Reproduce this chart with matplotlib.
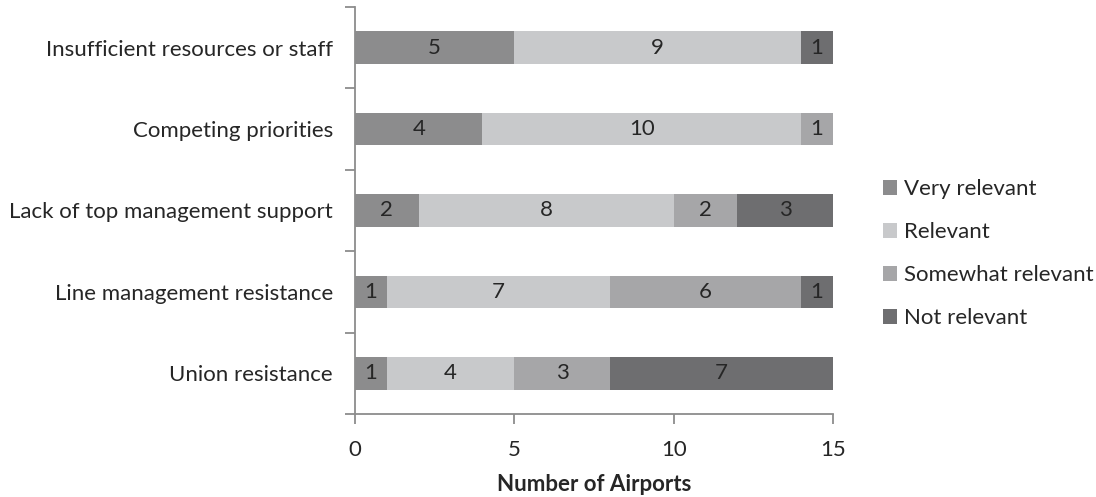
import matplotlib
matplotlib.use("Agg")
import matplotlib.pyplot as plt
import numpy as np

categories = ["Insufficient resources or staff", "Competing priorities",
              "Lack of top management support", "Line management resistance",
              "Union resistance"]
series_names = ["Very relevant", "Relevant", "Somewhat relevant", "Not relevant"]
very_relevant = [5, 4, 2, 1, 1]
relevant = [9, 10, 8, 7, 4]
somewhat_relevant = [0, 1, 2, 6, 3]
not_relevant = [1, 0, 3, 1, 7]
colors = ["#8c8c8d", "#c8c9cb", "#a6a6a8", "#6e6e70"]
xticks = [0, 5, 10, 15]

plt.rcParams['font.family'] = ['Lato', 'DejaVu Sans']
fig = plt.figure(figsize=(10.96, 4.97), dpi=100)
ax = fig.add_axes([355/1096, 1 - 414/497, (833-355)/1096, (414-7)/497])

fs = 16
text_color = "#262626"
series = [very_relevant, relevant, somewhat_relevant, not_relevant]
n = len(categories)
ypos = np.arange(n)[::-1]
left = np.zeros(n)
for name, vals, c in zip(series_names, series, colors):
    vals = np.array(vals, dtype=float)
    ax.barh(ypos, vals, left=left, height=0.4, color=c, label=name)
    for y, l, v in zip(ypos, left, vals):
        if v > 0:
            ax.text(l + v/2, y, f"{int(v)}", ha="center", va="center",
                    fontsize=fs, color=text_color)
    left += vals

ax.set_xlim(0, 15)
ax.set_ylim(-0.5, n - 0.5)
ax.set_xticks(xticks)
ax.set_xticklabels([str(t) for t in xticks], fontsize=fs, color=text_color)
ax.set_yticks(ypos)
ax.set_yticklabels(categories, fontsize=fs, color=text_color)
ax.set_yticks(np.arange(-0.5, n, 1.0), minor=True)
ax.tick_params(axis='y', which='major', length=0, pad=16)
ax.tick_params(axis='y', which='minor', length=7, color="#8c8c8c", width=1.3)
ax.tick_params(axis='x', length=7, color="#8c8c8c", width=1.3, pad=12)
for s in ["top", "right"]:
    ax.spines[s].set_visible(False)
for s in ["left", "bottom"]:
    ax.spines[s].set_color("#8c8c8c")
    ax.spines[s].set_linewidth(1.3)
ax.set_xlabel("Number of Airports", fontsize=fs, fontweight="bold",
              color=text_color, labelpad=10)

leg = ax.legend(loc="center left", bbox_to_anchor=(1.085, 0.394), frameon=False,
                fontsize=fs, handlelength=0.65, handleheight=0.65,
                handletextpad=0.3, labelspacing=1.04, borderaxespad=0)
for t in leg.get_texts():
    t.set_color(text_color)

fig.savefig("out.png", dpi=100)
